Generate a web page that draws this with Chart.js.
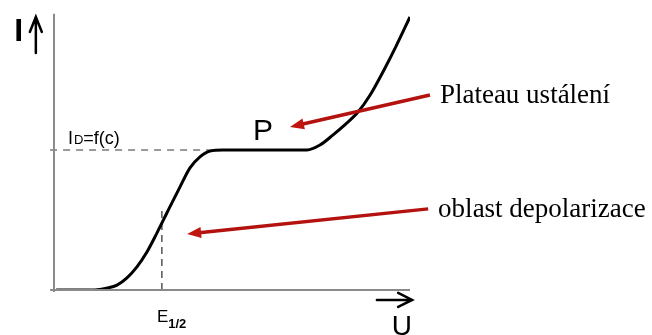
<!DOCTYPE html>
<html>
<head>
<meta charset="utf-8">
<script src="https://cdn.jsdelivr.net/npm/chart.js@4/dist/chart.umd.min.js"></script>
<style>
  html, body { margin: 0; padding: 0; background: #fff; }
  #chart { display: block; }
</style>
</head>
<body>
<canvas id="chart" width="652" height="335"></canvas>
<script>
// polarographic wave: current I against potential U (arbitrary units 0..100)
const uValues = [0.6, 11.5, 14.9, 17.7, 20.5, 23.3, 26.1, 28.9, 31.7, 35.4, 38.2, 41.0, 43.8, 47.5, 60, 71.1, 74.7, 78.4, 82.0, 85.4, 88.8, 92.4, 96.1, 100];
const iValues = [0, 0, 0.7, 1.8, 4.4, 8.4, 13.8, 20.7, 28.0, 37.5, 44.4, 48.4, 50.5, 50.9, 50.9, 50.9, 52.7, 56.4, 60.4, 64.7, 70.9, 79.3, 88.7, 99.3];

// limiting current level and half-wave potential
const plateauI = 50.9;
const plateauEndU = 44.7;
const halfWaveU = 30.3;
const halfWaveTop = 30.2;

// annotation arrows (tail -> head) in data units
const arrowTails = [[105.6, 70.9], [105.1, 29.5]];
const arrowHeads = [[66.3, 59.3], [37.4, 20.4]];
const arrowLabels = ['Plateau ustálení', 'oblast depolarizace'];

const curve = uValues.map((u, k) => ({ x: u, y: iValues[k] }));

const overlay = {
    id: 'overlay',
    afterDatasetsDraw(chart) {
        const ctx = chart.ctx;
        const x = chart.scales.x, y = chart.scales.y;
        const px = v => x.getPixelForValue(v);
        const py = v => y.getPixelForValue(v);
        ctx.save();

        // axes
        ctx.strokeStyle = '#8a8a8a';
        ctx.lineWidth = 2;
        ctx.beginPath();
        ctx.moveTo(px(0), py(100.5));
        ctx.lineTo(px(0), py(-0.7));
        ctx.moveTo(px(-1.1), py(0));
        ctx.lineTo(px(100), py(0));
        ctx.stroke();

        // red arrows
        ctx.strokeStyle = '#b3120f';
        ctx.fillStyle = '#c0160f';
        ctx.lineWidth = 3.5;
        arrowTails.forEach((t, k) => {
            const h = arrowHeads[k];
            const x0 = px(t[0]), y0 = py(t[1]), x1 = px(h[0]), y1 = py(h[1]);
            const a = Math.atan2(y1 - y0, x1 - x0);
            const len = 14, half = 5.5;
            const bx = x1 - len * Math.cos(a), by = y1 - len * Math.sin(a);
            ctx.beginPath();
            ctx.moveTo(x0, y0);
            ctx.lineTo(bx + 2 * Math.cos(a), by + 2 * Math.sin(a));
            ctx.stroke();
            ctx.beginPath();
            ctx.moveTo(x1, y1);
            ctx.lineTo(bx + half * Math.sin(a), by - half * Math.cos(a));
            ctx.lineTo(bx - half * Math.sin(a), by + half * Math.cos(a));
            ctx.closePath();
            ctx.fill();
        });

        // axis arrows
        ctx.strokeStyle = '#000';
        ctx.lineWidth = 2.5;
        ctx.lineCap = 'round';
        ctx.beginPath();
        const ax = px(-5.1);
        ctx.moveTo(ax, py(86.2));
        ctx.lineTo(ax, py(99.3));
        ctx.moveTo(ax - 6, py(99.3) + 15);
        ctx.lineTo(ax, py(99.3));
        ctx.lineTo(ax + 6, py(99.3) + 15);
        const uy = py(-3.6);
        ctx.moveTo(px(90.7), uy);
        ctx.lineTo(px(100.6), uy);
        ctx.moveTo(px(100.6) - 14, uy - 7);
        ctx.lineTo(px(100.6), uy);
        ctx.lineTo(px(100.6) - 14, uy + 7);
        ctx.stroke();

        // texts
        ctx.fillStyle = '#000';
        ctx.textBaseline = 'alphabetic';
        ctx.textAlign = 'left';
        ctx.font = 'bold 32px "Liberation Sans"';
        ctx.fillText('I', px(-11.2), py(90.5));
        ctx.font = '30px "Liberation Sans"';
        ctx.fillText('P', px(55.9), py(54.5));
        ctx.font = '28px "Liberation Sans"';
        ctx.fillText('U', px(94.9), py(-16.4));

        ctx.font = '27px "Liberation Serif"';
        ctx.fillText(arrowLabels[0], px(108.4), py(68));
        ctx.fillText(arrowLabels[1], px(107.9), py(26.5));

        let tx = px(3.9);
        const ty = py(53.1);
        ctx.font = '18px "Liberation Sans"';
        ctx.fillText('I', tx, ty);
        tx += ctx.measureText('I').width + 1;
        ctx.font = '13px "Liberation Sans"';
        ctx.fillText('D', tx, ty);
        tx += ctx.measureText('D').width;
        ctx.font = '18px "Liberation Sans"';
        ctx.fillText('=f(c)', tx, ty);

        let ex = px(28.9);
        const ey = py(-11.6);
        ctx.font = '17px "Liberation Sans"';
        ctx.fillText('E', ex, ey);
        ex += ctx.measureText('E').width;
        ctx.font = 'bold 13px "Liberation Sans"';
        ctx.fillText('1/2', ex, ey + 6);

        ctx.restore();
    }
};

new Chart(document.getElementById('chart').getContext('2d'), {
    type: 'line',
    data: {
        datasets: [
            {
                label: 'I',
                data: curve,
                borderColor: '#000',
                borderWidth: 3,
                pointRadius: 0,
                cubicInterpolationMode: 'monotone',
                fill: false,
                order: 1
            },
            {
                label: 'plateau',
                data: [{ x: -1.1, y: plateauI }, { x: plateauEndU, y: plateauI }],
                borderColor: '#7a7a7a',
                borderWidth: 1.5,
                borderDash: [7, 6],
                pointRadius: 0,
                clip: false,
                order: 2
            },
            {
                label: 'E1/2',
                data: [{ x: halfWaveU, y: 0 }, { x: halfWaveU, y: halfWaveTop }],
                borderColor: '#555',
                borderWidth: 1.5,
                borderDash: [7, 5],
                pointRadius: 0,
                order: 2
            }
        ]
    },
    options: {
        responsive: false,
        animation: false,
        layout: { padding: { left: 54, right: 242, top: 15, bottom: 45 } },
        plugins: { legend: { display: false }, tooltip: { enabled: false } },
        scales: {
            x: { type: 'linear', min: 0, max: 100, display: false },
            y: { type: 'linear', min: 0, max: 100, display: false }
        }
    },
    plugins: [overlay]
});
</script>
</body>
</html>
